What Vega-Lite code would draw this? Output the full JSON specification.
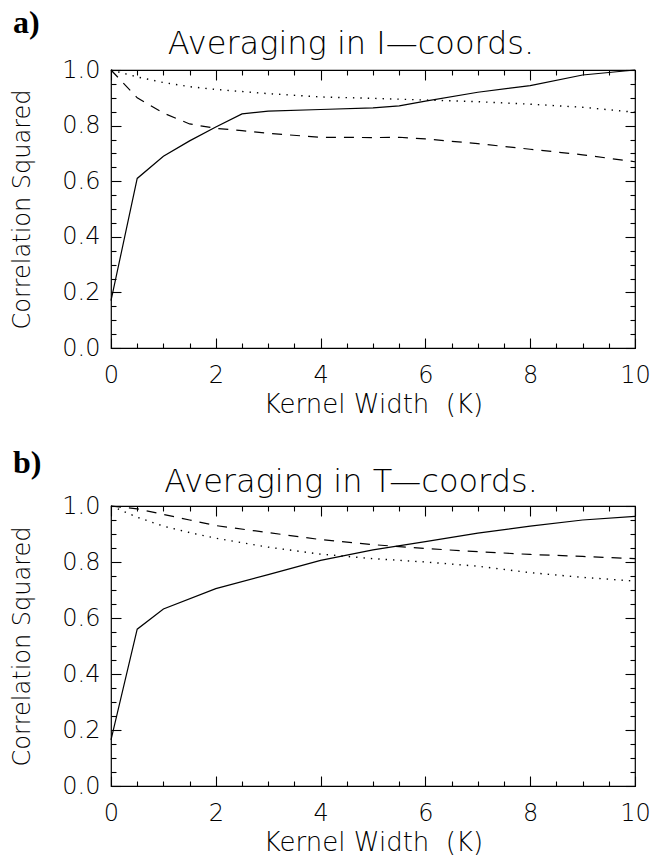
{
  "$schema": "https://vega.github.io/schema/vega-lite/v6.json",
  "padding": {"left": 10, "top": 6, "right": 5, "bottom": 2},
  "spacing": 28,
  "config": {
    "view": {"stroke": "#000", "strokeWidth": 1.2},
    "font": "DejaVu Sans",
    "axis": {"domain": false, "grid": false, "tickColor": "#000", "tickWidth": 1.1, "labelColor": "#000", "titleColor": "#000", "labelFont": "DejaVu Sans", "titleFont": "DejaVu Sans", "labelFontWeight": 200, "titleFontWeight": 200, "labelFlush": false, "labelOverlap": false}
  },
  "datasets": {
    "a": [
      {"k": 0, "r": 0.17, "s": "solid"}, {"k": 0.5, "r": 0.61, "s": "solid"}, {"k": 1, "r": 0.69, "s": "solid"}, {"k": 1.5, "r": 0.745, "s": "solid"}, {"k": 2, "r": 0.795, "s": "solid"}, {"k": 2.5, "r": 0.842, "s": "solid"}, {"k": 3, "r": 0.852, "s": "solid"}, {"k": 4, "r": 0.858, "s": "solid"}, {"k": 5, "r": 0.864, "s": "solid"}, {"k": 5.5, "r": 0.871, "s": "solid"}, {"k": 6, "r": 0.888, "s": "solid"}, {"k": 7, "r": 0.92, "s": "solid"}, {"k": 8, "r": 0.944, "s": "solid"}, {"k": 9, "r": 0.982, "s": "solid"}, {"k": 10, "r": 1.0, "s": "solid"},
      {"k": 0, "r": 1.0, "s": "dashed"}, {"k": 0.5, "r": 0.9, "s": "dashed"}, {"k": 1, "r": 0.845, "s": "dashed"}, {"k": 1.5, "r": 0.806, "s": "dashed"}, {"k": 2, "r": 0.79, "s": "dashed"}, {"k": 2.5, "r": 0.782, "s": "dashed"}, {"k": 3, "r": 0.772, "s": "dashed"}, {"k": 4, "r": 0.758, "s": "dashed"}, {"k": 5, "r": 0.757, "s": "dashed"}, {"k": 5.5, "r": 0.758, "s": "dashed"}, {"k": 6, "r": 0.752, "s": "dashed"}, {"k": 7, "r": 0.735, "s": "dashed"}, {"k": 8, "r": 0.715, "s": "dashed"}, {"k": 9, "r": 0.695, "s": "dashed"}, {"k": 10, "r": 0.67, "s": "dashed"},
      {"k": 0, "r": 1.0, "s": "dotted"}, {"k": 0.5, "r": 0.975, "s": "dotted"}, {"k": 1, "r": 0.955, "s": "dotted"}, {"k": 1.5, "r": 0.94, "s": "dotted"}, {"k": 2, "r": 0.93, "s": "dotted"}, {"k": 3, "r": 0.915, "s": "dotted"}, {"k": 4, "r": 0.903, "s": "dotted"}, {"k": 5, "r": 0.898, "s": "dotted"}, {"k": 6, "r": 0.892, "s": "dotted"}, {"k": 7, "r": 0.886, "s": "dotted"}, {"k": 8, "r": 0.877, "s": "dotted"}, {"k": 9, "r": 0.866, "s": "dotted"}, {"k": 10, "r": 0.848, "s": "dotted"}
    ],
    "b": [
      {"k": 0, "r": 0.165, "s": "solid"}, {"k": 0.5, "r": 0.56, "s": "solid"}, {"k": 1, "r": 0.632, "s": "solid"}, {"k": 2, "r": 0.705, "s": "solid"}, {"k": 3, "r": 0.755, "s": "solid"}, {"k": 4, "r": 0.806, "s": "solid"}, {"k": 5, "r": 0.843, "s": "solid"}, {"k": 6, "r": 0.873, "s": "solid"}, {"k": 7, "r": 0.903, "s": "solid"}, {"k": 8, "r": 0.928, "s": "solid"}, {"k": 9, "r": 0.95, "s": "solid"}, {"k": 10, "r": 0.963, "s": "solid"},
      {"k": 0, "r": 1.0, "s": "dashed"}, {"k": 0.5, "r": 0.99, "s": "dashed"}, {"k": 1, "r": 0.97, "s": "dashed"}, {"k": 1.5, "r": 0.95, "s": "dashed"}, {"k": 2, "r": 0.93, "s": "dashed"}, {"k": 3, "r": 0.905, "s": "dashed"}, {"k": 4, "r": 0.88, "s": "dashed"}, {"k": 5, "r": 0.862, "s": "dashed"}, {"k": 6, "r": 0.848, "s": "dashed"}, {"k": 7, "r": 0.837, "s": "dashed"}, {"k": 8, "r": 0.827, "s": "dashed"}, {"k": 9, "r": 0.82, "s": "dashed"}, {"k": 10, "r": 0.812, "s": "dashed"},
      {"k": 0, "r": 1.0, "s": "dotted"}, {"k": 0.5, "r": 0.96, "s": "dotted"}, {"k": 1, "r": 0.928, "s": "dotted"}, {"k": 1.5, "r": 0.905, "s": "dotted"}, {"k": 2, "r": 0.885, "s": "dotted"}, {"k": 3, "r": 0.853, "s": "dotted"}, {"k": 4, "r": 0.828, "s": "dotted"}, {"k": 5, "r": 0.812, "s": "dotted"}, {"k": 6, "r": 0.8, "s": "dotted"}, {"k": 7, "r": 0.785, "s": "dotted"}, {"k": 8, "r": 0.762, "s": "dotted"}, {"k": 9, "r": 0.745, "s": "dotted"}, {"k": 10, "r": 0.732, "s": "dotted"}
    ]
  },
  "vconcat": [
    {
      "width": 524, "height": 278,
      "data": {"name": "a"},
      "resolve": {"axis": {"x": "independent", "y": "independent"}},
      "layer": [
        {
          "transform": [{"filter": "datum.s === 'solid'"}],
          "mark": {"type": "line", "color": "#000", "strokeWidth": 1.2},
          "encoding": {
            "x": {"field": "k", "type": "quantitative", "scale": {"domain": [0, 10], "nice": false, "zero": false},
                  "axis": {"orient": "bottom", "values": [0, 2, 4, 6, 8, 10], "format": "d", "ticks": false, "labelPadding": 15, "labelFontSize": 24, "title": "Kernel Width \u00a0(K)", "titleFontSize": 26, "titlePadding": 4}},
            "y": {"field": "r", "type": "quantitative", "scale": {"domain": [0, 1], "nice": false},
                  "axis": {"orient": "left", "values": [0, 0.2, 0.4, 0.6, 0.8, 1], "format": ".1f", "ticks": false, "labelPadding": 11, "labelFontSize": 24, "title": "Correlation Squared", "titleFontSize": 24, "titlePadding": 27}}
          }
        },
        {
          "transform": [{"filter": "datum.s === 'dashed'"}],
          "mark": {"type": "line", "color": "#000", "strokeWidth": 1.2, "strokeDash": [10, 8]},
          "encoding": {
            "x": {"field": "k", "type": "quantitative", "scale": {"domain": [0, 10], "nice": false, "zero": false},
                  "axis": {"orient": "top", "offset": -278, "values": [0, 2, 4, 6, 8, 10], "tickSize": 10, "labels": false, "title": null}},
            "y": {"field": "r", "type": "quantitative", "scale": {"domain": [0, 1], "nice": false},
                  "axis": {"orient": "right", "offset": -524, "values": [0, 0.2, 0.4, 0.6, 0.8, 1], "tickSize": 10, "labels": false, "title": null}}
          }
        },
        {
          "transform": [{"filter": "datum.s === 'dotted'"}],
          "mark": {"type": "line", "color": "#000", "strokeWidth": 1.4, "strokeDash": [1.4, 6]},
          "encoding": {
            "x": {"field": "k", "type": "quantitative", "scale": {"domain": [0, 10], "nice": false, "zero": false},
                  "axis": {"orient": "top", "offset": -278, "values": [0.5, 1, 1.5, 2.5, 3, 3.5, 4.5, 5, 5.5, 6.5, 7, 7.5, 8.5, 9, 9.5], "tickSize": 5, "labels": false, "title": null}},
            "y": {"field": "r", "type": "quantitative", "scale": {"domain": [0, 1], "nice": false},
                  "axis": {"orient": "right", "offset": -524, "values": [0.05, 0.1, 0.15, 0.25, 0.3, 0.35, 0.45, 0.5, 0.55, 0.65, 0.7, 0.75, 0.85, 0.9, 0.95], "tickSize": 5, "labels": false, "title": null}}
          }
        },
        {
          "data": {"values": [{"lab": "a)"}]},
          "mark": {"type": "text", "font": "Liberation Serif", "fontWeight": "bold", "fontSize": 32, "align": "left", "baseline": "alphabetic", "color": "#000"},
          "encoding": {
            "text": {"field": "lab"},
            "x": {"datum": -1.87, "type": "quantitative", "scale": {"domain": [0, 10], "nice": false, "zero": false},
                  "axis": {"orient": "bottom", "offset": -278, "values": [0, 2, 4, 6, 8, 10], "tickSize": 10, "labels": false, "title": null}},
            "y": {"datum": 1.133, "type": "quantitative", "scale": {"domain": [0, 1], "nice": false},
                  "axis": {"orient": "left", "offset": -524, "values": [0, 0.2, 0.4, 0.6, 0.8, 1], "tickSize": 10, "labels": false, "title": null}}
          }
        },
        {
          "data": {"values": [{"lab": "Averaging in I—coords."}]},
          "mark": {"type": "text", "font": "DejaVu Sans", "fontWeight": 200, "fontSize": 32, "align": "center", "baseline": "alphabetic", "color": "#000"},
          "encoding": {
            "text": {"field": "lab"},
            "x": {"datum": 4.58, "type": "quantitative", "scale": {"domain": [0, 10], "nice": false, "zero": false},
                  "axis": {"orient": "bottom", "offset": -278, "values": [0.5, 1, 1.5, 2.5, 3, 3.5, 4.5, 5, 5.5, 6.5, 7, 7.5, 8.5, 9, 9.5], "tickSize": 5, "labels": false, "title": null}},
            "y": {"datum": 1.058, "type": "quantitative", "scale": {"domain": [0, 1], "nice": false},
                  "axis": {"orient": "left", "offset": -524, "values": [0.05, 0.1, 0.15, 0.25, 0.3, 0.35, 0.45, 0.5, 0.55, 0.65, 0.7, 0.75, 0.85, 0.9, 0.95], "tickSize": 5, "labels": false, "title": null}}
          }
        }
      ]
    },
    {
      "width": 524, "height": 280,
      "data": {"name": "b"},
      "resolve": {"axis": {"x": "independent", "y": "independent"}},
      "layer": [
        {
          "transform": [{"filter": "datum.s === 'solid'"}],
          "mark": {"type": "line", "color": "#000", "strokeWidth": 1.2},
          "encoding": {
            "x": {"field": "k", "type": "quantitative", "scale": {"domain": [0, 10], "nice": false, "zero": false},
                  "axis": {"orient": "bottom", "values": [0, 2, 4, 6, 8, 10], "format": "d", "ticks": false, "labelPadding": 15, "labelFontSize": 24, "title": "Kernel Width \u00a0(K)", "titleFontSize": 26, "titlePadding": 4}},
            "y": {"field": "r", "type": "quantitative", "scale": {"domain": [0, 1], "nice": false},
                  "axis": {"orient": "left", "values": [0, 0.2, 0.4, 0.6, 0.8, 1], "format": ".1f", "ticks": false, "labelPadding": 11, "labelFontSize": 24, "title": "Correlation Squared", "titleFontSize": 24, "titlePadding": 27}}
          }
        },
        {
          "transform": [{"filter": "datum.s === 'dashed'"}],
          "mark": {"type": "line", "color": "#000", "strokeWidth": 1.2, "strokeDash": [10, 8]},
          "encoding": {
            "x": {"field": "k", "type": "quantitative", "scale": {"domain": [0, 10], "nice": false, "zero": false},
                  "axis": {"orient": "top", "offset": -280, "values": [0, 2, 4, 6, 8, 10], "tickSize": 10, "labels": false, "title": null}},
            "y": {"field": "r", "type": "quantitative", "scale": {"domain": [0, 1], "nice": false},
                  "axis": {"orient": "right", "offset": -524, "values": [0, 0.2, 0.4, 0.6, 0.8, 1], "tickSize": 10, "labels": false, "title": null}}
          }
        },
        {
          "transform": [{"filter": "datum.s === 'dotted'"}],
          "mark": {"type": "line", "color": "#000", "strokeWidth": 1.4, "strokeDash": [1.4, 6]},
          "encoding": {
            "x": {"field": "k", "type": "quantitative", "scale": {"domain": [0, 10], "nice": false, "zero": false},
                  "axis": {"orient": "top", "offset": -280, "values": [0.5, 1, 1.5, 2.5, 3, 3.5, 4.5, 5, 5.5, 6.5, 7, 7.5, 8.5, 9, 9.5], "tickSize": 5, "labels": false, "title": null}},
            "y": {"field": "r", "type": "quantitative", "scale": {"domain": [0, 1], "nice": false},
                  "axis": {"orient": "right", "offset": -524, "values": [0.05, 0.1, 0.15, 0.25, 0.3, 0.35, 0.45, 0.5, 0.55, 0.65, 0.7, 0.75, 0.85, 0.9, 0.95], "tickSize": 5, "labels": false, "title": null}}
          }
        },
        {
          "data": {"values": [{"lab": "b)"}]},
          "mark": {"type": "text", "font": "Liberation Serif", "fontWeight": "bold", "fontSize": 32, "align": "left", "baseline": "alphabetic", "color": "#000"},
          "encoding": {
            "text": {"field": "lab"},
            "x": {"datum": -1.87, "type": "quantitative", "scale": {"domain": [0, 10], "nice": false, "zero": false},
                  "axis": {"orient": "bottom", "offset": -280, "values": [0, 2, 4, 6, 8, 10], "tickSize": 10, "labels": false, "title": null}},
            "y": {"datum": 1.118, "type": "quantitative", "scale": {"domain": [0, 1], "nice": false},
                  "axis": {"orient": "left", "offset": -524, "values": [0, 0.2, 0.4, 0.6, 0.8, 1], "tickSize": 10, "labels": false, "title": null}}
          }
        },
        {
          "data": {"values": [{"lab": "Averaging in T—coords."}]},
          "mark": {"type": "text", "font": "DejaVu Sans", "fontWeight": 200, "fontSize": 32, "align": "center", "baseline": "alphabetic", "color": "#000"},
          "encoding": {
            "text": {"field": "lab"},
            "x": {"datum": 4.58, "type": "quantitative", "scale": {"domain": [0, 10], "nice": false, "zero": false},
                  "axis": {"orient": "bottom", "offset": -280, "values": [0.5, 1, 1.5, 2.5, 3, 3.5, 4.5, 5, 5.5, 6.5, 7, 7.5, 8.5, 9, 9.5], "tickSize": 5, "labels": false, "title": null}},
            "y": {"datum": 1.05, "type": "quantitative", "scale": {"domain": [0, 1], "nice": false},
                  "axis": {"orient": "left", "offset": -524, "values": [0.05, 0.1, 0.15, 0.25, 0.3, 0.35, 0.45, 0.5, 0.55, 0.65, 0.7, 0.75, 0.85, 0.9, 0.95], "tickSize": 5, "labels": false, "title": null}}
          }
        }
      ]
    }
  ]
}
